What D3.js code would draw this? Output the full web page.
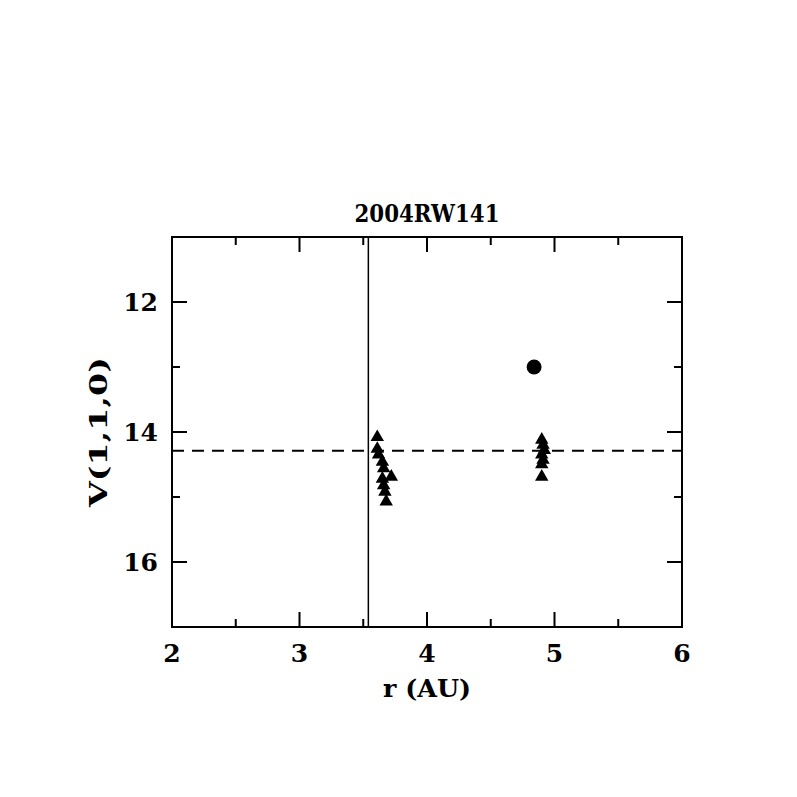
<!DOCTYPE html>
<html>
<head>
<meta charset="utf-8">
<script src="https://cdn.jsdelivr.net/npm/d3@7"></script>
<style>
  body { margin: 0; background: #fff; }
  text { font-family: "DejaVu Serif", "Liberation Serif", serif; font-weight: bold; fill: #000; }
</style>
</head>
<body>
<div id="chart"></div>
<script>
let width = 797, height = 797;
const margin = {left: 172, right: 115, top: 237, bottom: 170};

// data
const title = "2004RW141";
const xTicks = [2, 3, 4, 5, 6];
const yTicks = [12, 14, 16];
const triR = [3.61, 3.61, 3.62, 3.65, 3.66, 3.72, 3.65, 3.66, 3.67, 3.68,
              4.90, 4.91, 4.92, 4.90, 4.91, 4.90, 4.90];
const triV = [14.08, 14.26, 14.35, 14.46, 14.56, 14.69, 14.72, 14.82, 14.92, 15.07,
              14.12, 14.20, 14.28, 14.35, 14.43, 14.50, 14.69];
const dotR = [4.84];
const dotV = [13.0];
const refV = 14.29;  // dashed line
const refR = 3.54;   // vertical line

let svg = d3.select('#chart').append('svg')
  .attr('width', width).attr('height', height);

let x = d3.scaleLinear().domain([2, 6]).range([margin.left, width - margin.right]);
let y = d3.scaleLinear().domain([11, 17]).range([margin.top, height - margin.bottom]);

let x0 = x.range()[0], x1 = x.range()[1], y0 = y.range()[0], y1 = y.range()[1];

// ticks on all four sides, pointing in
let g = svg.append('g').attr('stroke', '#000').attr('stroke-width', 2);
d3.range(2, 6.01, 0.5).forEach(function(v){
  let len = Number.isInteger(v) ? 15 : 8;
  g.append('line').attr('x1', x(v)).attr('x2', x(v)).attr('y1', y1).attr('y2', y1 - len);
  g.append('line').attr('x1', x(v)).attr('x2', x(v)).attr('y1', y0).attr('y2', y0 + len);
});
d3.range(11, 17.01, 1).forEach(function(v){
  let len = v % 2 === 0 ? 15 : 8;
  g.append('line').attr('y1', y(v)).attr('y2', y(v)).attr('x1', x0).attr('x2', x0 + len);
  g.append('line').attr('y1', y(v)).attr('y2', y(v)).attr('x1', x1).attr('x2', x1 - len);
});
g.append('rect').attr('x', x0).attr('y', y0).attr('width', x1 - x0).attr('height', y1 - y0)
  .attr('fill', 'none');

// reference lines
svg.append('line').attr('x1', x(refR)).attr('x2', x(refR)).attr('y1', y0).attr('y2', y1)
  .attr('stroke', '#000').attr('stroke-width', 1.5);
svg.append('line').attr('x1', x0).attr('x2', x1).attr('y1', y(refV)).attr('y2', y(refV))
  .attr('stroke', '#000').attr('stroke-width', 2).attr('stroke-dasharray', '12,8');

// points
let tri = d3.symbol().type(d3.symbolTriangle).size(78);
svg.selectAll('.tri').data(triR).enter().append('path')
  .attr('d', tri)
  .attr('transform', function(d, i){ return 'translate(' + x(d) + ',' + y(triV[i]) + ')'; })
  .attr('fill', '#000');
svg.selectAll('.dot').data(dotR).enter().append('circle')
  .attr('cx', function(d){ return x(d); })
  .attr('cy', function(d, i){ return y(dotV[i]); })
  .attr('r', 7.5).attr('fill', '#000');

// labels
svg.selectAll('.xt').data(xTicks).enter().append('text')
  .attr('x', function(d){ return x(d); }).attr('y', y1 + 35)
  .attr('text-anchor', 'middle').attr('font-size', 25).text(function(d){ return d; });
svg.selectAll('.yt').data(yTicks).enter().append('text')
  .attr('x', x0 - 14).attr('y', function(d){ return y(d) + 9; })
  .attr('text-anchor', 'end').attr('font-size', 25).text(function(d){ return d; });

svg.append('text').attr('x', (x0 + x1) / 2).attr('y', y0 - 15)
  .attr('text-anchor', 'middle').attr('font-size', 25)
  .attr('textLength', 145).attr('lengthAdjust', 'spacingAndGlyphs').text(title);
svg.append('text').attr('x', (x0 + x1) / 2).attr('y', y1 + 70)
  .attr('text-anchor', 'middle').attr('font-size', 25)
  .attr('textLength', 88).attr('lengthAdjust', 'spacingAndGlyphs').text('r (AU)');
svg.append('text')
  .attr('transform', 'translate(107,' + ((y0 + y1) / 2) + ') rotate(-90)')
  .attr('text-anchor', 'middle').attr('font-size', 25)
  .attr('textLength', 150).attr('lengthAdjust', 'spacingAndGlyphs').text('V(1,1,0)');
</script>
</body>
</html>
